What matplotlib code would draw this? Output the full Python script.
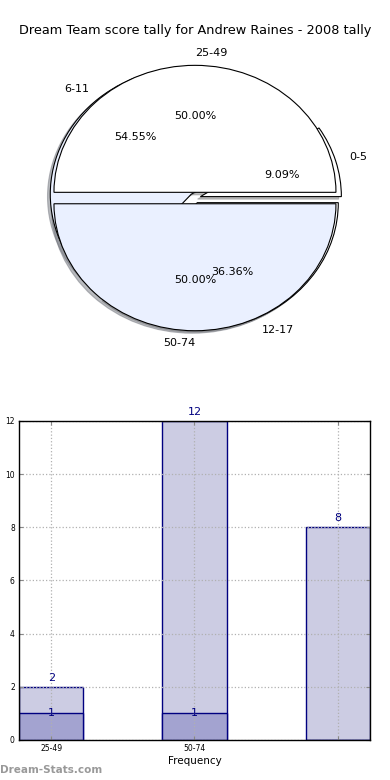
import numpy as np
import matplotlib
matplotlib.use('Agg')
import matplotlib.pyplot as plt

# ---- data ----
title_text = 'Dream Team score tally for Andrew Raines - 2008 tally'

outer_labels = ['25-49', '50-74']
outer_counts = [1, 1]

inner_labels = ['0-5', '6-11', '12-17']
inner_counts = [1, 6, 4]

bar_labels = ['25-49', '50-74', '']
total_vals = [2, 12, 8]
sub_vals = [1, 1, 0]

pie_colors = ['white', '#EAF0FF']
light_bar = '#CCCCE3'
dark_bar = '#A3A3D0'
navy = '#000080'

fig = plt.figure(figsize=(3.9, 7.8), dpi=100)

# title
fig.text(0.5, 0.9615, title_text, ha='center', va='center', fontsize=9.3)

# ---- pie (two pies overlaid) ----
ax1 = fig.add_axes([0.048, 0.5426, 0.9038, 0.407])
wprops = dict(linewidth=0.8, edgecolor='black')
shad = dict(ox=-0.014, oy=-0.014, shade=0.5)
ax1.pie(inner_counts, labels=inner_labels, explode=[0.04] * 3, colors=pie_colors,
        autopct='%1.2f%%', shadow=shad, wedgeprops=wprops,
        textprops=dict(fontsize=8))
wA, tA, aA = ax1.pie(outer_counts, labels=outer_labels, explode=[0.045] * 2,
                     colors=pie_colors, autopct='%1.2f%%', shadow=shad,
                     wedgeprops=wprops, textprops=dict(fontsize=8))
# old-style alignment: top label starts at centre, bottom label ends at centre
tA[0].set_ha('left')
tA[1].set_ha('right')
ax1.set_aspect('auto')
ax1.set_xlim(-1.25, 1.25)
ax1.set_ylim(-1.25, 1.25)
ax1.axis('off')

# ---- bar chart ----
ax2 = fig.add_axes([0.0487, 0.0513, 0.9, 0.409])
x = np.arange(len(total_vals))
w = 0.45
ax2.bar(x, total_vals, width=w, color=light_bar, edgecolor=navy, linewidth=1)
ax2.bar(x, sub_vals, width=w, color=dark_bar, edgecolor=navy, linewidth=1)

for xi, v in zip(x, total_vals):
    ax2.text(xi, v + 0.15, str(v), ha='center', va='bottom', color=navy, fontsize=8)
for xi, v in zip(x, sub_vals):
    if v > 0:
        ax2.text(xi, v, str(v), ha='center', va='center', color=navy, fontsize=8)

ax2.set_xlim(-w / 2, len(x) - 1 + w / 2)
ax2.set_ylim(0, 12)
ax2.set_yticks(range(0, 13, 2))
ax2.set_xticks(x)
ax2.set_xticklabels(bar_labels)
ax2.tick_params(axis='both', direction='in', labelsize=5.5, top=True, right=True,
                length=3, color='#888888', pad=3)
ax2.set_axisbelow(False)
ax2.grid(True, linestyle=':', color='#b0b0b0', linewidth=0.9)
for s in ax2.spines.values():
    s.set_linewidth(1)
    s.set_zorder(5)
ax2.set_xlabel('Frequency', fontsize=7.5, labelpad=2)
ax2.set_ylabel('Stat Interval', fontsize=7.5)
ax2.yaxis.set_label_coords(-0.058, 0.5)

# watermark
fig.text(0.0, 0.013, 'Dream-Stats.com', ha='left', va='center', fontsize=7.5,
         color='#999999', fontweight='bold')

fig.savefig('out.png', dpi=100)
